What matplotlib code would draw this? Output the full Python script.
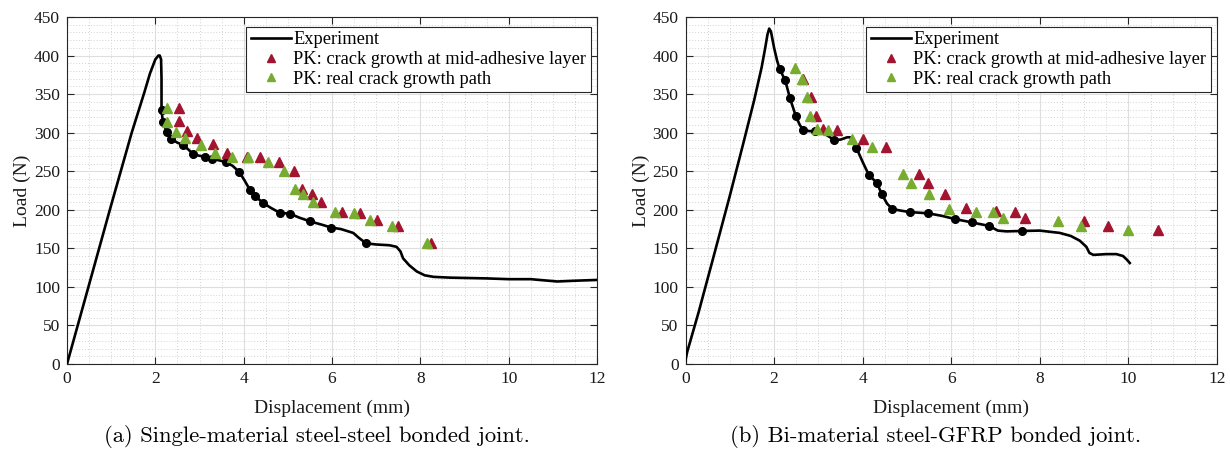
import matplotlib
matplotlib.use("Agg")
import matplotlib.pyplot as plt
from matplotlib.ticker import MultipleLocator
from matplotlib.lines import Line2D

# ---------------- data: (a) single-material steel-steel ----------------
a_exp_x = [0.0, 0.5, 0.97, 1.46, 1.75, 1.88, 2.0, 2.07, 2.1, 2.13, 2.14, 2.14, 2.17, 2.26, 2.36,
           2.5, 2.63, 2.75, 2.86, 3.0, 3.13, 3.28, 3.45, 3.59, 3.75, 3.9, 4.02, 4.14, 4.25, 4.44,
           4.6, 4.82, 5.05, 5.25, 5.5, 5.75, 5.98, 6.2, 6.48, 6.6, 6.77, 7.0, 7.3, 7.46, 7.55,
           7.61, 7.75, 7.92, 8.1, 8.3, 8.67, 9.5, 10.0, 10.5, 11.1, 11.5, 12.0]
a_exp_y = [0, 103, 200, 299, 352, 377, 395, 400, 400, 395, 370, 330, 314, 301, 292,
           287, 284, 278, 272, 270, 269, 266, 264, 262, 257, 249, 238, 226, 218, 209,
           203, 196, 195, 190, 185, 181, 177, 175, 170, 164, 156.5, 155, 154, 152, 146,
           137, 128, 120, 115, 113, 112, 111, 110, 110, 107, 108, 109]
a_dot_x = [2.14, 2.17, 2.26, 2.36, 2.63, 2.86, 3.13, 3.28, 3.59, 3.9, 4.14, 4.25, 4.44, 4.82,
           5.05, 5.5, 5.98, 6.77]
a_dot_y = [330, 314, 301, 292, 284, 272, 269, 266, 262, 249, 226, 218, 209, 196,
           195, 185, 177, 156.5]
a_mid_x = [2.54, 2.54, 2.72, 2.95, 3.31, 3.63, 4.07, 4.37, 4.81, 5.15, 5.33, 5.54, 5.74, 6.22,
           6.63, 7.01, 7.49, 8.25]
a_mid_y = [331.6, 315, 302, 292.6, 285, 273, 269, 268, 262, 250, 227, 221, 210.5, 197.5,
           196, 187, 179, 157]
a_real_x = [2.26, 2.26, 2.47, 2.67, 3.03, 3.35, 3.73, 4.10, 4.56, 4.92, 5.16, 5.35, 5.58, 6.07,
            6.50, 6.86, 7.35, 8.16]
a_real_y = [331.6, 314, 301, 292.6, 284, 273, 269, 268, 262, 250, 227, 221, 210.5, 197.5,
            196, 187, 179, 157]

# ---------------- data: (b) bi-material steel-GFRP ----------------
b_exp_x = [0.0, 0.04, 0.3, 0.6, 1.0, 1.3, 1.55, 1.72, 1.8, 1.85, 1.89, 1.93, 2.0, 2.07, 2.13, 2.25,
           2.36, 2.49, 2.58, 2.66, 2.8, 2.92, 3.1, 3.36, 3.5, 3.65, 3.72, 3.79, 3.86, 4.0, 4.14,
           4.32, 4.43, 4.55, 4.67, 4.85, 5.07, 5.48, 5.8, 6.08, 6.46, 6.86, 7.05, 7.25, 7.59,
           8.0, 8.45, 8.7, 8.9, 9.05, 9.12, 9.21, 9.5, 9.73, 9.88, 9.97, 10.03]
b_exp_y = [5, 16, 68, 132, 218, 285, 342, 385, 410, 427, 435, 431, 410, 393, 382, 368,
           344.5, 321.6, 310, 303.5, 302, 302, 300, 290.5, 291, 294, 294, 290, 280, 262, 245,
           235, 220.5, 208, 201, 199, 197, 195.4, 192, 188, 183.7, 179, 173, 172, 172.5,
           173, 170, 166, 160, 152, 144, 141.5, 142.5, 142.5, 140, 135, 131]
b_dot_x = [2.13, 2.25, 2.36, 2.49, 2.66, 2.92, 3.36, 3.86, 4.14, 4.32, 4.43, 4.67, 5.07, 5.48,
           6.08, 6.46, 6.86, 7.59]
b_dot_y = [382, 368, 344.5, 321.6, 303.5, 302, 290.5, 280, 245, 234.5, 220.5, 201, 196.7, 195.4,
           188, 183.7, 179, 172.5]
b_mid_x = [2.66, 2.83, 2.94, 3.11, 3.41, 4.01, 4.52, 5.28, 5.48, 5.86, 6.33, 7.01, 7.45, 7.66,
           9.0, 9.54, 10.66]
b_mid_y = [369, 346, 322, 305, 303.5, 292, 281, 246, 235, 220.5, 202, 198, 197, 189,
           185.5, 179.4, 173.8]
b_real_x = [2.47, 2.62, 2.74, 2.81, 2.96, 3.22, 3.75, 4.20, 4.92, 5.10, 5.50, 5.95, 6.55, 6.95,
            7.16, 8.42, 8.94, 9.99]
b_real_y = [383.5, 369, 346, 322, 305, 304, 292, 281, 246, 235, 220.5, 201, 197.5, 197,
            189, 185, 179, 174]

x_ticks = [0, 2, 4, 6, 8, 10, 12]
y_ticks = [0, 50, 100, 150, 200, 250, 300, 350, 400, 450]
legend_labels = ["Experiment", "PK: crack growth at mid-adhesive layer", "PK: real crack growth path"]
captions = ["(a) Single-material steel-steel bonded joint.", "(b) Bi-material steel-GFRP bonded joint."]

RED = "#A2142F"
GREEN = "#77AC30"
AXC = "#262626"
SERIF = ["Liberation Serif", "DejaVu Serif"]

plt.rcParams["font.family"] = SERIF

fig = plt.figure(figsize=(12.3, 4.55), dpi=100)
ax_a = fig.add_axes([67 / 1230, 91 / 455, 530 / 1230, 347 / 455])
ax_b = fig.add_axes([685.5 / 1230, 91 / 455, 531.5 / 1230, 347 / 455])

panels = [
    (ax_a, a_exp_x, a_exp_y, a_dot_x, a_dot_y, a_mid_x, a_mid_y, a_real_x, a_real_y),
    (ax_b, b_exp_x, b_exp_y, b_dot_x, b_dot_y, b_mid_x, b_mid_y, b_real_x, b_real_y),
]

for i, (ax, ex, ey, dx, dy, mx, my, rx, ry) in enumerate(panels):
    ax.plot(ex, ey, color="black", lw=1.9, zorder=3, solid_joinstyle="round")
    ax.plot(dx, dy, "o", color="black", ms=5.5, zorder=4)
    ax.plot(mx, my, "^", color=RED, ms=6.5, mec=RED, zorder=5)
    ax.plot(rx, ry, "^", color=GREEN, ms=6.5, mec=GREEN, zorder=6)

    ax.set_xlim(0, 12)
    ax.set_ylim(0, 450)
    ax.set_xticks(x_ticks)
    ax.set_yticks(y_ticks)
    ax.xaxis.set_minor_locator(MultipleLocator(0.5))
    ax.yaxis.set_minor_locator(MultipleLocator(10))
    ax.grid(which="major", color="#dedede", lw=0.8, ls="-", zorder=0)
    ax.grid(which="minor", color="#d2d2d2", lw=0.7, ls=(0, (1, 2)), zorder=0)
    ax.set_axisbelow(True)
    ax.tick_params(which="major", direction="in", length=5, width=0.8, top=True, right=True,
                   colors=AXC, labelsize=12.5, labelcolor="#1a1a1a", pad=5)
    ax.tick_params(which="minor", length=0, top=True, right=True)
    for sp in ax.spines.values():
        sp.set_color(AXC)
        sp.set_linewidth(0.8)
    ax.set_xlabel("Displacement (mm)", fontsize=14, labelpad=9, color="#1a1a1a")
    ax.set_ylabel("Load (N)", fontsize=14, labelpad=2, color="#1a1a1a")

    handles = [
        Line2D([], [], color="black", lw=1.9),
        Line2D([], [], marker="^", ls="none", color=RED, ms=5.5),
        Line2D([], [], marker="^", ls="none", color=GREEN, ms=5.5),
    ]
    leg = ax.legend(handles, legend_labels, loc="upper right", bbox_to_anchor=(0.988, 0.972),
                    fontsize=13.2, frameon=True, fancybox=False, framealpha=1,
                    edgecolor=AXC, borderpad=0.25, labelspacing=0.15, handlelength=2.2,
                    handletextpad=0.1, borderaxespad=0)
    leg.get_frame().set_linewidth(0.8)

    cx = (ax.get_position().x0 + ax.get_position().x1) / 2
    fig.text(cx - 0.0125, 18 / 455, captions[i], ha="center", va="center", fontsize=16.3,
             family=["cmr10", "DejaVu Serif"])

fig.savefig("out.png", dpi=100)
